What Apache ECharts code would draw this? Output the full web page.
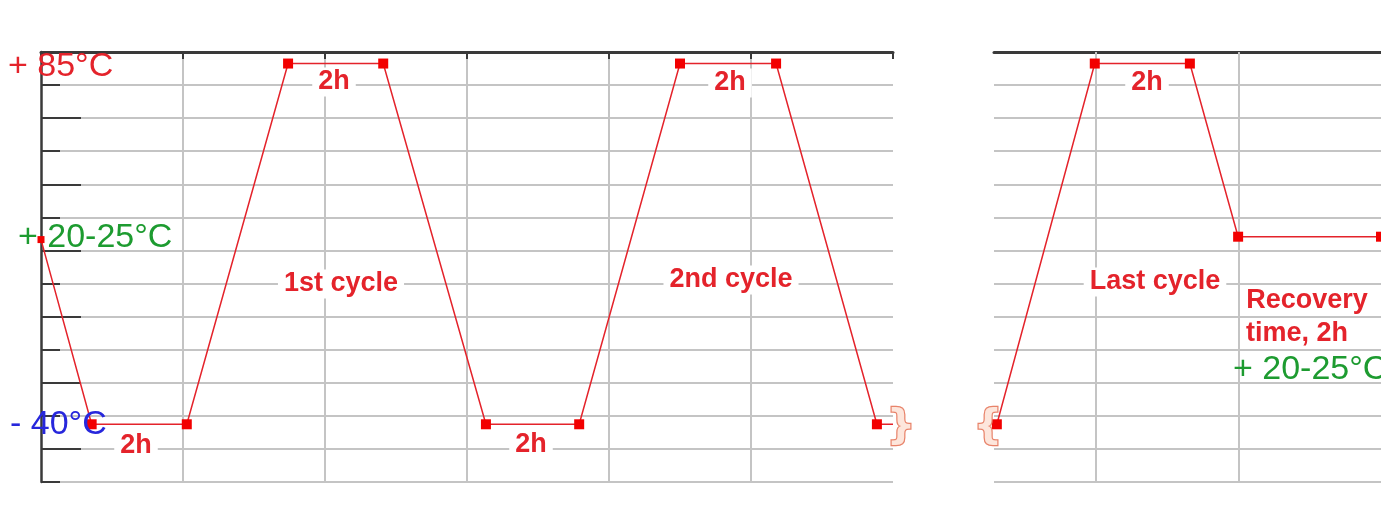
<!DOCTYPE html>
<html>
<head>
<meta charset="utf-8">
<script src="https://cdn.jsdelivr.net/npm/echarts@6/dist/echarts.min.js"></script>
<style>
    html, body { margin: 0; padding: 0; background: #fff; }
    #chart { width: 1381px; height: 505px; }
</style>
</head>
<body>
<div id="chart"></div>
<script>
// first two cycles (hours from start, temperature in °C)
const cycleHours = [0, 1.07, 3.08, 5.22, 7.23, 9.40, 11.37, 13.50, 15.53, 17.66, 18];
const cycleTemps = [24, -40, -40, 85, 85, -40, -40, 85, 85, -40, -40];

// last cycle + recovery, on the cut-off right panel
const lastHours = [0.06, 2.13, 4.14, 5.16, 8.18];
const lastTemps = [-40, 85, 85, 25, 25];
const lastPanelLines = [2.15, 5.18];

// grid rows, counted from the top
const levels = ['0', '1', '2', '3', '4', '5', '6', '7', '8', '9', '10', '11', '12', '13'];

const RED = '#e4232b';
const GREEN = '#1d9b30';
const BLUE = '#2727dc';
const GRID = '#c4c4c4';
const DARK = '#3a3a3a';
const FONT = '"Liberation Sans", Arial, sans-serif';

const chart = echarts.init(document.getElementById('chart'));

function levelAxis(gridIndex, withAxis) {
    return {
        type: 'value', gridIndex: gridIndex, position: 'left', min: 0, max: 13, interval: 1, inverse: true,
        axisLine: { show: withAxis, lineStyle: { color: DARK, width: 2.5 } },
        axisTick: { show: withAxis, inside: true, length: 19, lineStyle: { color: DARK, width: 2 } },
        axisLabel: { show: false },
        splitLine: { show: true, lineStyle: { color: GRID, width: 2 } }
    };
}

function tempAxis(gridIndex) {
    return { type: 'value', gridIndex: gridIndex, position: 'left', min: -60, max: 89, show: false };
}

function label(text, x, y, size, color, bold, align, bg) {
    return {
        type: 'text', x: x, y: y, z: 100,
        style: {
            text: text,
            font: (bold ? 'bold ' : '') + size + 'px ' + FONT,
            fill: color,
            align: align || 'center',
            verticalAlign: 'middle',
            backgroundColor: bg ? '#fff' : null,
            padding: bg ? [1, 6] : 0
        }
    };
}

function brace(text, x, y) {
    return {
        type: 'text', x: x, y: y, z: 100,
        style: {
            text: text, font: 'bold 40px "DejaVu Sans", ' + FONT,
            fill: '#fde6dc', stroke: '#e8836a', lineWidth: 2.5,
            align: 'center', verticalAlign: 'middle'
        }
    };
}

const option = {
    backgroundColor: '#fff',
    animation: false,
    grid: [
        { left: 41, top: 52, width: 852, height: 430 },
        { left: 994, top: 52, right: 0, height: 430 }
    ],
    xAxis: [
        {
            type: 'value', gridIndex: 0, position: 'top', min: 0, max: 18, interval: 3,
            axisLine: { show: true, lineStyle: { color: DARK, width: 3 } },
            axisTick: { show: true, inside: true, length: 7, lineStyle: { color: DARK, width: 2 } },
            axisLabel: { show: false },
            splitLine: { show: true, showMinLine: false, showMaxLine: false, lineStyle: { color: GRID, width: 2 } }
        },
        {
            type: 'value', gridIndex: 1, position: 'top', min: 0, max: 8.18,
            axisLine: { show: true, lineStyle: { color: DARK, width: 3 } },
            axisTick: { show: false },
            axisLabel: { show: false },
            splitLine: { show: false }
        }
    ],
    yAxis: [
        levelAxis(0, true),
        {
            type: 'category', gridIndex: 0, position: 'left', data: levels, boundaryGap: false, inverse: true,
            axisLine: { show: false },
            axisTick: { show: true, inside: true, length: 40, interval: (i) => i % 2 === 0, lineStyle: { color: DARK, width: 2 } },
            axisLabel: { show: false },
            splitLine: { show: false }
        },
        tempAxis(0),
        levelAxis(1, false),
        tempAxis(1)
    ],
    series: [
        {
            type: 'line', xAxisIndex: 0, yAxisIndex: 2,
            data: cycleHours.map((h, i) => [h, cycleTemps[i]]),
            symbol: 'rect',
            symbolSize: (v, p) => (p.dataIndex === cycleHours.length - 1 ? 0 : (p.dataIndex === 0 ? 7 : 10)),
            lineStyle: { color: RED, width: 1.5 },
            itemStyle: { color: '#f20000' },
            z: 5
        },
        {
            type: 'line', xAxisIndex: 1, yAxisIndex: 4,
            data: lastHours.map((h, i) => [h, lastTemps[i]]),
            symbol: 'rect', symbolSize: 10,
            lineStyle: { color: RED, width: 1.5 },
            itemStyle: { color: '#f20000' },
            z: 5,
            markLine: {
                silent: true, symbol: 'none', label: { show: false },
                lineStyle: { color: GRID, width: 2, type: 'solid' },
                data: lastPanelLines.map((h) => ({ xAxis: h }))
            }
        }
    ],
    graphic: [
        label('+ 85°C', 8, 67, 34, RED, false, 'left'),
        label('+ 20-25°C', 18, 238, 34, GREEN, false, 'left'),
        label('- 40°C', 10, 425, 34, BLUE, false, 'left'),
        label('2h', 136, 446, 27, RED, true, 'center', true),
        label('2h', 334, 82, 27, RED, true, 'center', true),
        label('2h', 531, 445, 27, RED, true, 'center', true),
        label('2h', 730, 83, 27, RED, true, 'center', true),
        label('2h', 1147, 83, 27, RED, true, 'center', true),
        label('1st cycle', 341, 284, 27, RED, true, 'center', true),
        label('2nd cycle', 731, 280, 27, RED, true, 'center', true),
        label('Last cycle', 1155, 282, 27, RED, true, 'center', true),
        label('Recovery', 1307, 301, 27, RED, true, 'center', true),
        label('time, 2h', 1297, 334, 27, RED, true, 'center', true),
        label('+ 20-25°C', 1233, 370, 34, GREEN, false, 'left'),
        brace('}', 901, 428),
        brace('{', 988, 428)
    ]
};

chart.setOption(option);
</script>
</body>
</html>
